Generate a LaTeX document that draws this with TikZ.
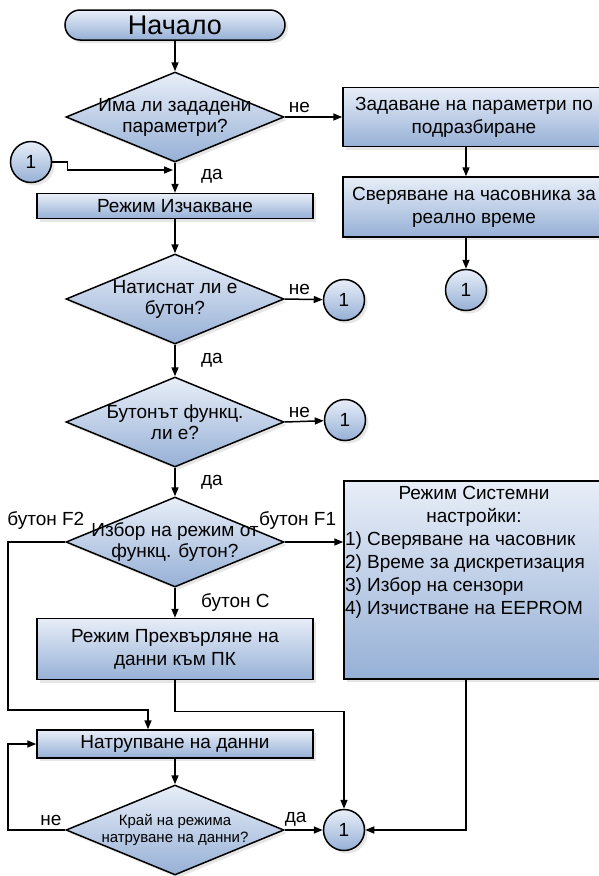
\documentclass[tikz,border=0pt]{standalone}
\usepackage{fontspec}
\setmainfont{Liberation Sans}
\usetikzlibrary{%
  arrows.meta,%
  shapes.geometric,% wg. diamond
  shadows% wg. drop shadow
}
\definecolor{boxtop}{RGB}{232,238,248}
\definecolor{boxbot}{RGB}{150,176,214}

\begin{document}
\begin{tikzpicture}[x=1pt,y=-1pt,
  every node/.style={font=\fontsize{19}{23}\selectfont},
  shade/.style={draw=black,line width=1.5pt,top color=boxtop,bottom color=boxbot,
    drop shadow={opacity=0.2,shadow xshift=3pt,shadow yshift=-3pt}},
  block/.style={shade,rectangle,inner sep=2pt,align=center},
  decision/.style={shade,diamond,inner sep=0pt,minimum width=218pt,minimum height=90pt},
  dtext/.style={align=center,font=\fontsize{19}{21}\selectfont},
  conn/.style={shade,circle,inner sep=0pt,minimum size=41pt},
  flow/.style={line width=1.5pt,-{Triangle[length=9pt,width=7pt]}},
  yes/.style={right,xshift=22pt}
]
\useasboundingbox (0,0) rectangle (598,876);

% left column
\node[block,rounded corners=15pt,minimum width=220pt,minimum height=30pt,
      font=\fontsize{27}{30}\selectfont] (start) at (175,25) {Начало};
\node[decision,label={[dtext]center:Има ли зададени\\параметри?}] (d1) at (175,117) {};
\node[conn] (c0) at (31,162) {1};
\coordinate (join) at (173,170);
\node[block,minimum width=276pt,minimum height=25pt] (wait) at (175,206) {Режим Изчакване};
\node[decision,label={[dtext]center:Натиснат ли е\\бутон?}] (d2) at (175,299) {};
\node[conn] (c2) at (344,300) {1};
\node[decision,label={[dtext]center:Бутонът функц.\\ли е?}] (d3) at (175,422) {};
\node[conn] (c3) at (345,420) {1};
\node[decision,label={[dtext]center:Избор на режим от\\функц. бутон?}] (d4) at (175,542) {};
\node[block,minimum width=276pt,minimum height=61pt] (pc) at (175,649)
     {Режим Прехвърляне на\\данни към ПК};
\node[block,minimum width=276pt,minimum height=28pt] (acc) at (175,744) {Натрупване на данни};
\node[decision,label={[dtext,font=\fontsize{15}{17}\selectfont]center:Край на режима\\натруване на данни?}]
     (d5) at (175,830) {};
\node[conn] (cend) at (344,830) {1};

% right column
\node[block,minimum width=262pt,minimum height=59pt] (setdef) at (474,117)
     {Задаване на параметри по\\подразбиране};
\node[block,minimum width=262pt,minimum height=60pt] (rtc) at (474,207)
     {Сверяване на часовника за\\реално време};
\node[conn] (c1) at (466,290) {1};
\node[block,anchor=north,inner xsep=1pt,inner ysep=5pt] (sys) at (474,480)
     {\parbox[c][188pt][t]{258pt}{\fontsize{19}{23}\selectfont
      \centering Режим Системни\\настройки:\par\raggedright
      1) Сверяване на часовник\\
      2) Време за дискретизация\\
      3) Избор на сензори\\
      4) Изчистване на EEPROM}};

% connectors
\draw[flow] (start) -- (d1);
\draw[flow] (d1.east) -- node[pos=0,above right]{не} (setdef.west);
\draw[flow] (setdef.south -| c1) -- (rtc.north -| c1);
\draw[flow] (rtc.south -| c1) -- (c1);
\draw[flow] (c0.east) -- ++(15,0) -- ++(0,8) -- (join);
\draw[flow] (d1) -- node[yes,pos=0.45]{да} (wait);
\draw[flow] (wait) -- (d2);
\draw[flow] (d2.east) -- node[pos=0,above right]{не} (c2);
\draw[flow] (d2) -- node[yes]{да} (d3);
\draw[flow] (d3.east) -- node[pos=0,above right]{не} (c3);
\draw[flow] (d3) -- node[yes]{да} (d4);
\draw[flow] (d4.east) -- node[pos=0.22,above=8pt]{бутон F1} (sys.west |- d4);
\draw[flow] (d4.west) -- node[pos=0.34,above=8pt]{бутон F2} (8,542) -- (8,710)
     -| ([xshift=-27pt]acc.north);
\draw[flow] (d4) -- node[yes]{бутон С} (pc);
\draw[flow] (pc.south) -- ++(0,31) -| (cend.north);
\draw[flow] (sys.south -| c1) |- (cend.east);
\draw[flow] (acc) -- (d5);
\draw[flow] (d5.east) -- node[pos=0,above right,xshift=-4pt]{да} (cend);
\draw[flow] (d5.west) -- node[pos=0.25,above]{не} (8,830) |- (acc.west);
\end{tikzpicture}
\end{document}
